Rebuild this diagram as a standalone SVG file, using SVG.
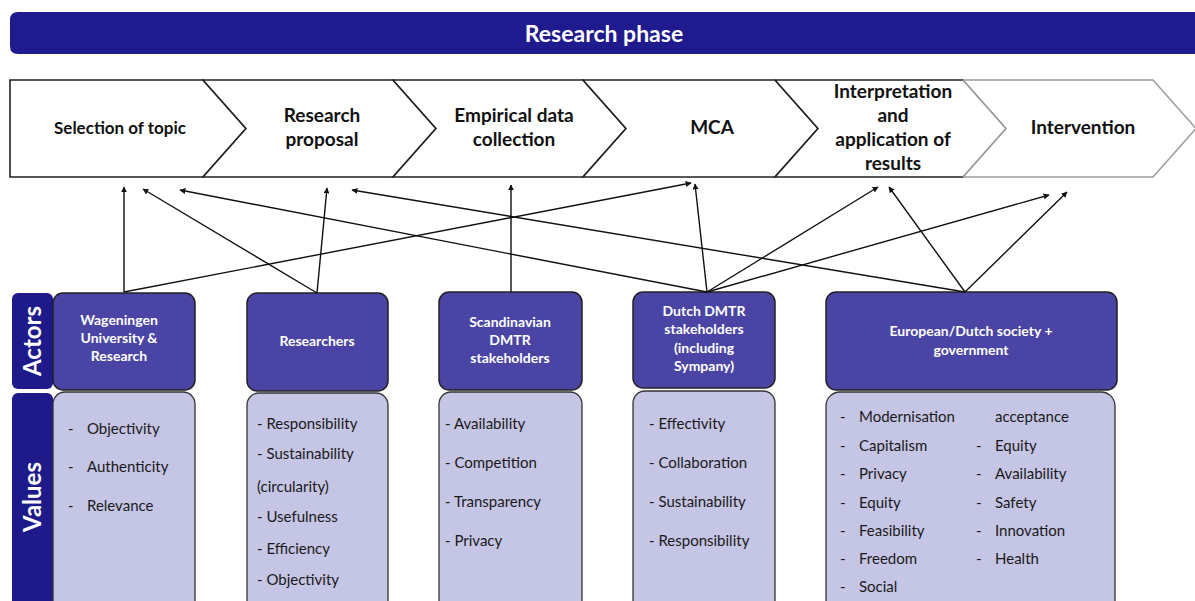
<svg xmlns="http://www.w3.org/2000/svg" width="1195" height="601" viewBox="0 0 1195 601">
<defs>
<marker id="ah" viewBox="0 0 10 10" refX="9" refY="5" markerWidth="6" markerHeight="6" markerUnits="userSpaceOnUse" orient="auto">
<path d="M0,0 L10,5 L0,10 z" fill="#111"/>
</marker>
<style>
.chev{fill:#fff;stroke:#222;stroke-width:1.6}
.chevg{fill:#fff;stroke:#9a9a9a;stroke-width:1.4}
.ct{font-family:Lato,"Liberation Sans",sans-serif;font-weight:bold;font-size:19px;fill:#111;text-anchor:middle}
.lab{fill:#1f1a8a}
.labt{font-family:Lato,"Liberation Sans",sans-serif;font-weight:bold;font-size:24px;fill:#fff;text-anchor:middle}
.act{fill:#4a45a5;stroke:#222;stroke-width:1.5}
.at{font-family:Lato,"Liberation Sans",sans-serif;font-weight:bold;font-size:14px;fill:#fff;text-anchor:middle}
.val{fill:#c5c5e5;stroke:#333;stroke-width:1.3}
.vt{font-family:Lato,"Liberation Sans",sans-serif;font-size:15px;fill:#1a1a1a}
.con line{stroke:#111;stroke-width:1.4;marker-end:url(#ah)}
</style>
</defs>
<rect width="1195" height="601" fill="#fff"/>

<g id="title">
<path d="M18,12 H1195 V54 H18 Q10,54 10,46 V20 Q10,12 18,12 Z" fill="#1f1a8e"/>
<text x="604" y="42" font-family="Lato,'Liberation Sans',sans-serif" font-size="23" font-weight="bold" fill="#fff" text-anchor="middle">Research phase</text>
</g>

<g id="step1">
<path class="chev" d="M10,80 H203 L246,128.5 L203,177 H10 Z"/>
<text class="ct" x="120" y="134" style="font-size:17px">Selection of topic</text>
</g>
<g id="step2">
<path class="chev" d="M203,80 H393 L436,128.5 L393,177 H203 L246,128.5 Z"/>
<text class="ct" x="322" y="122">Research</text>
<text class="ct" x="322" y="146">proposal</text>
</g>
<g id="step3">
<path class="chev" d="M393,80 H583 L626,128.5 L583,177 H393 L436,128.5 Z"/>
<text class="ct" x="514" y="122">Empirical data</text>
<text class="ct" x="514" y="146">collection</text>
</g>
<g id="step4">
<path class="chev" d="M583,80 H775 L818,128.5 L775,177 H583 L626,128.5 Z"/>
<text class="ct" x="712" y="134">MCA</text>
</g>
<g id="step6">
<path class="chevg" d="M963,80 H1153 L1196,128.5 L1153,177 H963 L1006,128.5 Z"/>
<text class="ct" x="1083" y="134">Intervention</text>
</g>
<g id="step5">
<path class="chev" d="M775,80 H963 M963,177 H775 L818,128.5 L775,80"/>
<path d="M963,80 L1006,128.5 L963,177" fill="none" stroke="#9a9a9a" stroke-width="1.4"/>
<text class="ct" x="893" y="98">Interpretation</text>
<text class="ct" x="893" y="122">and</text>
<text class="ct" x="893" y="146">application of</text>
<text class="ct" x="893" y="170">results</text>
</g>

<g id="label-actors">
<rect class="lab" x="12" y="293" width="41" height="96" rx="6"/>
<text class="labt" transform="translate(41,341) rotate(-90)">Actors</text>
</g>
<g id="label-values">
<rect class="lab" x="12" y="393" width="41" height="230" rx="6"/>
<text class="labt" transform="translate(41,497) rotate(-90)">Values</text>
</g>

<g id="actor-wur">
<rect class="act" x="53" y="293" width="142" height="97" rx="10"/>
<text class="at" x="119" y="325">Wageningen</text>
<text class="at" x="119" y="343">University &amp;</text>
<text class="at" x="119" y="361">Research</text>
</g>
<g id="values-wur">
<rect class="val" x="53" y="392" width="142" height="240" rx="12"/>
<text class="vt" x="68" y="434">-</text><text class="vt" x="87" y="434">Objectivity</text>
<text class="vt" x="68" y="472">-</text><text class="vt" x="87" y="472">Authenticity</text>
<text class="vt" x="68" y="511">-</text><text class="vt" x="87" y="511">Relevance</text>
</g>

<g id="actor-researchers">
<rect class="act" x="247" y="293" width="141" height="98" rx="10"/>
<text class="at" x="317" y="346">Researchers</text>
</g>
<g id="values-researchers">
<rect class="val" x="247" y="393" width="141" height="240" rx="12"/>
<text class="vt" x="257" y="429">- Responsibility</text>
<text class="vt" x="257" y="459">- Sustainability</text>
<text class="vt" x="257" y="492">(circularity)</text>
<text class="vt" x="257" y="522">- Usefulness</text>
<text class="vt" x="257" y="554">- Efficiency</text>
<text class="vt" x="257" y="585">- Objectivity</text>
</g>

<g id="actor-scandinavian">
<rect class="act" x="439" y="292" width="143" height="98" rx="10"/>
<text class="at" x="510" y="327">Scandinavian</text>
<text class="at" x="510" y="345">DMTR</text>
<text class="at" x="510" y="363">stakeholders</text>
</g>
<g id="values-scandinavian">
<rect class="val" x="439" y="392" width="143" height="240" rx="12"/>
<text class="vt" x="445" y="429">- Availability</text>
<text class="vt" x="445" y="468">- Competition</text>
<text class="vt" x="445" y="507">- Transparency</text>
<text class="vt" x="445" y="546">- Privacy</text>
</g>

<g id="actor-dutch">
<rect class="act" x="633" y="292" width="142" height="96" rx="10"/>
<text class="at" x="704" y="316">Dutch DMTR</text>
<text class="at" x="704" y="334">stakeholders</text>
<text class="at" x="704" y="353">(including</text>
<text class="at" x="704" y="371">Sympany)</text>
</g>
<g id="values-dutch">
<rect class="val" x="633" y="391" width="142" height="240" rx="12"/>
<text class="vt" x="649" y="429">- Effectivity</text>
<text class="vt" x="649" y="468">- Collaboration</text>
<text class="vt" x="649" y="507">- Sustainability</text>
<text class="vt" x="649" y="546">- Responsibility</text>
</g>

<g id="actor-society">
<rect class="act" x="826" y="292" width="291" height="98" rx="10"/>
<text class="at" x="971" y="336">European/Dutch society +</text>
<text class="at" x="971" y="355">government</text>
</g>
<g id="values-society">
<rect class="val" x="826" y="392" width="289" height="240" rx="14"/>
<text class="vt" x="840" y="422">-</text><text class="vt" x="859" y="422">Modernisation</text>
<text class="vt" x="840" y="451">-</text><text class="vt" x="859" y="451">Capitalism</text>
<text class="vt" x="840" y="479">-</text><text class="vt" x="859" y="479">Privacy</text>
<text class="vt" x="840" y="508">-</text><text class="vt" x="859" y="508">Equity</text>
<text class="vt" x="840" y="536">-</text><text class="vt" x="859" y="536">Feasibility</text>
<text class="vt" x="840" y="564">-</text><text class="vt" x="859" y="564">Freedom</text>
<text class="vt" x="840" y="592">-</text><text class="vt" x="859" y="592">Social</text>
<text class="vt" x="995" y="422">acceptance</text>
<text class="vt" x="976" y="451">-</text><text class="vt" x="995" y="451">Equity</text>
<text class="vt" x="976" y="479">-</text><text class="vt" x="995" y="479">Availability</text>
<text class="vt" x="976" y="508">-</text><text class="vt" x="995" y="508">Safety</text>
<text class="vt" x="976" y="536">-</text><text class="vt" x="995" y="536">Innovation</text>
<text class="vt" x="976" y="564">-</text><text class="vt" x="995" y="564">Health</text>
</g>

<g id="connectors" class="con">
<line x1="124" y1="292" x2="124" y2="187"/>
<line x1="124" y1="292" x2="691" y2="183"/>
<line x1="317" y1="293" x2="143" y2="189"/>
<line x1="317" y1="293" x2="327" y2="188"/>
<line x1="511" y1="292" x2="511" y2="185"/>
<line x1="707" y1="292" x2="180" y2="190"/>
<line x1="707" y1="292" x2="695" y2="184"/>
<line x1="707" y1="292" x2="878" y2="187"/>
<line x1="707" y1="292" x2="1049" y2="195"/>
<line x1="965" y1="292" x2="352" y2="190"/>
<line x1="965" y1="292" x2="889" y2="187"/>
<line x1="965" y1="292" x2="1067" y2="192"/>
</g>
</svg>
